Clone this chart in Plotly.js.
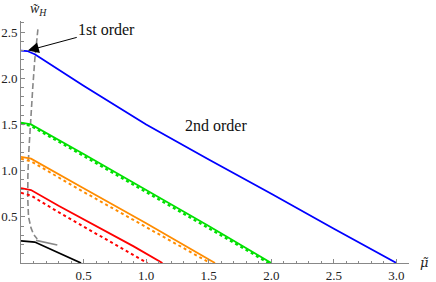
<!DOCTYPE html>
<html>
<head>
<meta charset="utf-8">
<script src="https://cdn.plot.ly/plotly-3.0.1.min.js"></script>
<style>html,body{margin:0;padding:0;background:#fff;}#chart{width:436px;height:282px;}</style>
</head>
<body>
<div id="chart"></div>
<script>
// 2nd-order curves (solid) and their approximations (dotted)
const muBlue = [0, 0.05, 0.11, 0.5, 1.0, 1.5, 2.0, 2.5, 3.0];
const wBlue  = [2.30, 2.295, 2.26, 1.92, 1.50, 1.12, 0.75, 0.37, 0];

const muGreen = [0, 0.08, 0.5, 1.0, 1.5, 2.0];
const wGreen  = [1.52, 1.50, 1.18, 0.79, 0.40, 0];
const muGreenDot = [0, 0.08, 0.5, 1.0, 1.5, 1.98];
const wGreenDot  = [1.51, 1.485, 1.16, 0.77, 0.38, 0];

const muOrange = [0, 0.08, 0.5, 1.0, 1.55];
const wOrange  = [1.15, 1.13, 0.81, 0.43, 0];
const muOrangeDot = [0, 0.08, 0.5, 1.0, 1.51];
const wOrangeDot  = [1.13, 1.10, 0.77, 0.39, 0];

const muRed = [0, 0.08, 0.3, 0.6, 0.9, 1.13];
const wRed  = [0.81, 0.79, 0.62, 0.40, 0.18, 0];
const muRedDot = [0, 0.08, 0.3, 0.6, 0.9, 1.01];
const wRedDot  = [0.76, 0.73, 0.55, 0.32, 0.09, 0];

const muBlack = [0, 0.11, 0.48];
const wBlack  = [0.24, 0.227, 0];

// 1st-order boundary (gray)
const muFirst = [0.135, 0.11, 0.094, 0.075, 0.062, 0.055, 0.054, 0.06, 0.08, 0.1, 0.13];
const wFirst  = [2.53, 2.2, 1.9, 1.5, 1.2, 0.95, 0.7, 0.5, 0.38, 0.31, 0.26];
const muFirstTail = [0.12, 0.29];
const wFirstTail  = [0.245, 0.195];

const xTicks = [0.5, 1.0, 1.5, 2.0, 2.5, 3.0];
const xTickText = ["0.5", "1.0", "1.5", "2.0", "2.5", "3.0"];
const yTicks = [0.5, 1.0, 1.5, 2.0, 2.5];
const yTickText = ["0.5", "1.0", "1.5", "2.0", "2.5"];

function line(x, y, color, dash, width) {
  return {x: x, y: y, mode: 'lines', type: 'scatter', hoverinfo: 'skip',
          line: {color: color, width: width || 1.8, dash: dash || 'solid'}};
}

const data = [
  line(muFirst, wFirst, '#888888', '6px,3px', 1.6),
  line(muFirstTail, wFirstTail, '#888888', 'solid', 1.6),
  line(muGreenDot, wGreenDot, '#00e000', 'dot', 2.4),
  line(muOrangeDot, wOrangeDot, '#ff8c00', 'dot', 2),
  line(muRedDot, wRedDot, '#ff0000', 'dot', 2),
  line(muBlue, wBlue, '#0000ff'),
  line(muGreen, wGreen, '#00e000'),
  line(muOrange, wOrange, '#ff8c00'),
  line(muRed, wRed, '#ff0000'),
  line(muBlack, wBlack, '#000000')
];

const serif = 'Liberation Serif';
const tickFont = {family: serif, size: 13, color: '#222'};
const layout = {
  width: 436, height: 282,
  font: {family: serif, size: 13, color: '#222'},
  margin: {l: 21, r: 27, t: 21, b: 19, pad: 0},
  paper_bgcolor: '#fff', plot_bgcolor: '#fff',
  showlegend: false,
  xaxis: {range: [0, 3.1], showgrid: false, zeroline: false, showline: true,
          linecolor: '#888', linewidth: 1, ticks: 'inside', ticklen: 4, tickcolor: '#888',
          tickvals: xTicks, ticktext: xTickText, tickfont: tickFont,
          minor: {ticks: 'inside', ticklen: 2.5, tickcolor: '#888', dtick: 0.1, showgrid: false}},
  yaxis: {range: [0, 2.62], showgrid: false, zeroline: false, showline: true,
          linecolor: '#888', linewidth: 1, ticks: 'inside', ticklen: 4, tickcolor: '#888',
          tickvals: yTicks, ticktext: yTickText, tickfont: tickFont,
          minor: {ticks: 'inside', ticklen: 2.5, tickcolor: '#888', dtick: 0.1, showgrid: false}},
  annotations: [
    {x: 0.055, y: 2.30, xref: 'x', yref: 'y', ax: 0.685, ay: 2.53, axref: 'x', ayref: 'y',
     text: '1st order', showarrow: true, arrowhead: 2, arrowsize: 2.2, arrowwidth: 1,
     arrowcolor: '#000', standoff: 0,
     font: {family: serif, size: 16, color: '#111'}},
    {x: 1.56, y: 1.49, xref: 'x', yref: 'y', text: '2nd order', showarrow: false,
     font: {family: serif, size: 16, color: '#111'}},
    {x: 0.14, y: 1, xref: 'x', yref: 'paper', yanchor: 'bottom', xanchor: 'center', yshift: 1,
     text: '<i>w̃</i><sub><i>H</i></sub>', showarrow: false,
     font: {family: serif, size: 14, color: '#222'}},
    {x: 1, y: 0, xref: 'paper', yref: 'y', xanchor: 'left', yanchor: 'middle', xshift: 9, yshift: 1,
     text: '<i>μ̃</i>', showarrow: false,
     font: {family: 'DejaVu Serif', size: 13, color: '#222'}}
  ]
};

Plotly.newPlot('chart', data, layout, {staticPlot: true, displayModeBar: false});
</script>
</body>
</html>
